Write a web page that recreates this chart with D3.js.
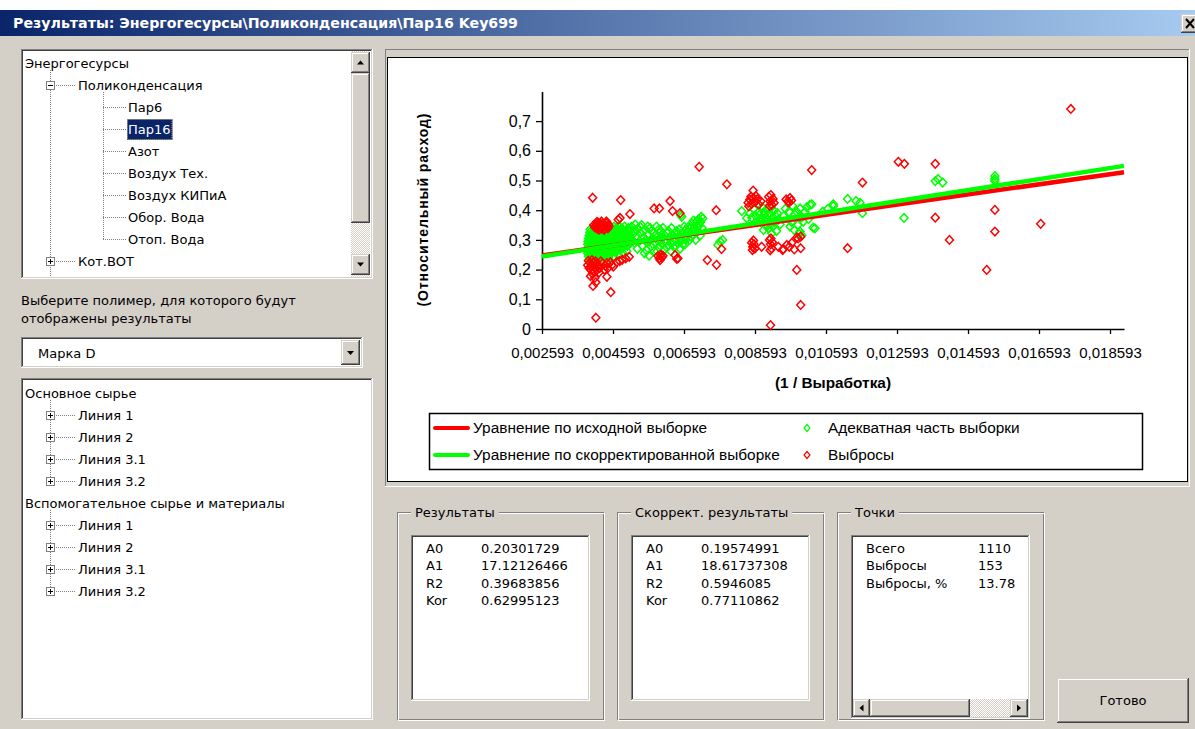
<!DOCTYPE html>
<html>
<head>
<meta charset="utf-8">
<script src="https://cdn.jsdelivr.net/npm/d3@7"></script>
<style>
html, body { margin: 0; padding: 0; background: #fff; overflow: hidden; }
svg { display: block; }
</style>
</head>
<body>
<div id="app"></div>
<script>
const windowTitle = 'Результаты: Энергогесурсы\\Поликонденсация\\Пар16 Key699';

// [label, level, toggle]
const resourceTree = [
    ['Энергогесурсы', 0, ''], ['Поликонденсация', 1, '-'], ['Пар6', 2, ''], ['Пар16', 2, ''],
    ['Азот', 2, ''], ['Воздух Тех.', 2, ''], ['Воздух КИПиА', 2, ''], ['Обор. Вода', 2, ''],
    ['Отоп. Вода', 2, ''], ['Кот.ВОТ', 1, '+']
];
const selectedResource = 'Пар16';
const polymerPrompt = ['Выберите полимер, для которого будут', 'отображены результаты'];
const polymerChoice = 'Марка D';
const materialTree = [
    ['Основное сырье', 0, ''], ['Линия 1', 1, '+'], ['Линия 2', 1, '+'], ['Линия 3.1', 1, '+'], ['Линия 3.2', 1, '+'],
    ['Вспомогательное сырье и материалы', 0, ''], ['Линия 1', 1, '+'], ['Линия 2', 1, '+'], ['Линия 3.1', 1, '+'], ['Линия 3.2', 1, '+']
];

const coefNames = ['A0', 'A1', 'R2', 'Kor'];
const rawResults = ['0.20301729', '17.12126466', '0.39683856', '0.62995123'];
const corrResults = ['0.19574991', '18.61737308', '0.5946085', '0.77110862'];
const pointNames = ['Всего', 'Выбросы', 'Выбросы, %'];
const pointValues = ['1110', '153', '13.78'];

const xTicks = [0.002593, 0.004593, 0.006593, 0.008593, 0.010593, 0.012593, 0.014593, 0.016593, 0.018593];
const yTicks = [0, 0.1, 0.2, 0.3, 0.4, 0.5, 0.6, 0.7];
const xTitle = '(1 / Выработка)';
const yTitle = '(Относительный расход)';
const legendLabels = ['Уравнение по исходной выборке', 'Уравнение по скорректированной выборке', 'Адекватная часть выборки', 'Выбросы'];

// points: [ (1/Выработка) x 1000 , относительный расход ]
const adequatePts = [
    [3.90,.245],[3.98,.245],[4.06,.245],[4.14,.245],[4.22,.245],[4.32,.245],[4.40,.245],
    [3.94,.250],[4.02,.250],[4.10,.250],[4.18,.250],[4.26,.250],[4.34,.250],[4.42,.250],[4.50,.250],
    [3.88,.255],[3.96,.255],[4.04,.255],[4.12,.255],[4.20,.255],[4.28,.255],[4.36,.255],[4.44,.255],[4.52,.255],
    [3.93,.260],[4.01,.260],[4.09,.260],[4.17,.260],[4.25,.260],[4.33,.260],[4.41,.260],[4.49,.260],[4.58,.260],[4.67,.260],
    [3.89,.265],[3.97,.265],[4.05,.265],[4.13,.265],[4.21,.265],[4.29,.265],[4.37,.265],[4.45,.265],[4.53,.265],[4.62,.265],[4.72,.265],
    [3.94,.270],[4.02,.270],[4.10,.270],[4.18,.270],[4.26,.270],[4.34,.270],[4.42,.270],[4.50,.270],[4.59,.270],[4.70,.270],[4.82,.270],
    [3.90,.275],[3.98,.275],[4.06,.275],[4.14,.275],[4.22,.275],[4.30,.275],[4.38,.275],[4.46,.275],[4.54,.275],[4.64,.275],[4.76,.275],[4.88,.275],
    [3.92,.280],[4.00,.280],[4.08,.280],[4.16,.280],[4.24,.280],[4.32,.280],[4.40,.280],[4.48,.280],[4.57,.280],[4.66,.280],[4.76,.280],[4.88,.280],[5.00,.280],
    [3.88,.285],[3.96,.285],[4.04,.285],[4.12,.285],[4.20,.285],[4.28,.285],[4.36,.285],[4.44,.285],[4.52,.285],[4.60,.285],[4.70,.285],[4.82,.285],[4.94,.285],[5.05,.285],
    [3.93,.290],[4.01,.290],[4.09,.290],[4.17,.290],[4.25,.290],[4.33,.290],[4.41,.290],[4.49,.290],[4.60,.290],[4.72,.290],[4.84,.290],[4.96,.290],[5.08,.290],
    [3.89,.295],[3.97,.295],[4.05,.295],[4.13,.295],[4.21,.295],[4.29,.295],[4.37,.295],[4.45,.295],[4.55,.295],[4.66,.295],[4.78,.295],[4.90,.295],[5.02,.295],
    [3.94,.300],[4.02,.300],[4.10,.300],[4.18,.300],[4.26,.300],[4.34,.300],[4.42,.300],[4.51,.300],[4.62,.300],[4.74,.300],[4.86,.300],[5.04,.300],
    [3.90,.305],[3.98,.305],[4.06,.305],[4.14,.305],[4.22,.305],[4.30,.305],[4.38,.305],[4.46,.305],[4.56,.305],[4.68,.305],[4.80,.305],[4.96,.305],[5.10,.305],
    [3.95,.310],[4.04,.310],[4.12,.310],[4.20,.310],[4.28,.310],[4.36,.310],[4.44,.310],[4.53,.310],[4.64,.310],[4.76,.310],[4.92,.310],[5.06,.310],
    [3.92,.315],[4.00,.315],[4.08,.315],[4.16,.315],[4.24,.315],[4.32,.315],[4.40,.315],[4.48,.315],[4.58,.315],[4.70,.315],[4.84,.315],[5.00,.315],
    [3.98,.320],[4.08,.320],[4.18,.320],[4.28,.320],[4.38,.320],[4.48,.320],[4.59,.320],[4.70,.320],[4.82,.320],[4.96,.320],
    [3.94,.325],[4.04,.325],[4.14,.325],[4.24,.325],[4.34,.325],[4.44,.325],[4.54,.325],[4.64,.325],[4.76,.325],[4.90,.325],
    [4.66,.330],[4.80,.330],[4.94,.330],[5.08,.330],
    [3.95,.335],[4.60,.335],[4.72,.335],[4.86,.335],[5.00,.335],
    [4.68,.340],[4.84,.340],[5.02,.340],
    [4.62,.345],[4.76,.345],[4.92,.345],
    [3.92,.235],[4.02,.235],[4.12,.235],[4.22,.235],[4.46,.240],[4.58,.240],
    [4.62,.245],[4.75,.250],[4.88,.255],[4.98,.262],
    [5.12,.345],[5.18,.330],[5.22,.352],[5.25,.312],[5.30,.338],[5.33,.295],[5.36,.322],[5.40,.350],[5.42,.280],[5.46,.308],
    [5.50,.335],[5.53,.265],[5.55,.292],[5.58,.318],[5.61,.247],[5.64,.340],[5.66,.280],[5.70,.305],[5.73,.325],[5.76,.262],
    [5.79,.290],[5.82,.345],[5.85,.312],[5.88,.275],[5.91,.298],[5.95,.330],[5.98,.285],[6.02,.310],[6.05,.268],[6.08,.295],
    [6.12,.322],[6.15,.280],[6.18,.305],[6.22,.262],[6.25,.290],[6.28,.315],[6.32,.275],[6.35,.300],[6.38,.330],[6.42,.288],
    [6.45,.312],[6.48,.270],[6.52,.298],[6.55,.325],[6.58,.305],[6.62,.285],[6.65,.335],[6.68,.312],[6.72,.345],[6.75,.300],
    [6.78,.325],[6.82,.355],[6.85,.318],[6.88,.340],[6.92,.300],[6.95,.362],[6.98,.330],[7.02,.348],[7.08,.378],[7.05,.315],
    [7.12,.372],[6.53,.378],[6.50,.383],[7.61,.294],[7.68,.300],[7.55,.283],
    [5.15,.318],[5.20,.290],[5.28,.270],[5.35,.345],[5.44,.328],[5.48,.255],[5.52,.300],[5.57,.345],[5.62,.295],[5.68,.330],
    [5.72,.285],[5.78,.315],[5.84,.262],[5.88,.335],[5.93,.310],[6.00,.340],[6.04,.295],[6.10,.275],[6.16,.330],[6.20,.310],
    [6.24,.340],[6.30,.295],[6.36,.280],[6.40,.320],[6.46,.335],[6.50,.300],[6.56,.285],[6.60,.345],[6.64,.300],[6.70,.325],
    [6.76,.340],[6.80,.310],[6.86,.365],[6.90,.330],[6.96,.345],[7.00,.370],[7.06,.360],[7.10,.340],
    [8.22,.397],[8.36,.373],[8.45,.390],[8.55,.405],[8.62,.380],[8.70,.395],[8.75,.360],[8.80,.410],[8.83,.333],[8.86,.385],
    [8.90,.350],[8.92,.400],[8.95,.370],[8.98,.338],[9.00,.390],[9.02,.355],[9.06,.322],[9.08,.372],[9.10,.345],[9.12,.398],
    [9.15,.360],[9.18,.380],[8.88,.365],[8.78,.372],[9.05,.410],[9.20,.330],[9.25,.368],[9.30,.352],[9.40,.380],[9.58,.345],
    [9.62,.360],[9.70,.333],[9.72,.385],[9.77,.395],[9.80,.350],[9.84,.320],[9.86,.406],[9.86,.328],[9.91,.316],[9.95,.361],
    [10.00,.395],[10.05,.410],[10.14,.418],[10.19,.420],[10.23,.341],[10.28,.339],[9.45,.405],[9.55,.395],[9.65,.415],[9.90,.375],
    [10.10,.370],[8.65,.360],[8.50,.375],[8.72,.385],[8.85,.395],[8.96,.382],[9.10,.360],[9.22,.390],[8.92,.345],[9.00,.360],
    [10.80,.414],[10.80,.420],[11.20,.438],[11.44,.431],[11.62,.390],[11.55,.425],[12.79,.374],[13.67,.498],[13.88,.493],[13.75,.505],
    [15.35,.515],[15.35,.505],[15.35,.498],[10.50,.395],[10.65,.405]
];
const outlierPts = [
    [4.08,.342],[4.12,.353],[4.15,.337],[4.19,.357],[4.22,.345],[4.26,.338],[4.29,.355],[4.33,.347],[4.36,.337],[4.40,.357],
    [4.43,.345],[4.46,.353],[4.10,.347],[4.17,.345],[4.24,.352],[4.31,.341],[4.38,.348],[4.45,.339],[4.14,.361],[4.27,.362],
    [4.41,.362],[4.20,.335],[4.34,.334],[4.48,.345],[4.05,.350],
    [3.88,.215],[3.92,.205],[3.95,.222],[3.98,.198],[4.01,.212],[4.04,.225],[4.06,.195],[4.09,.208],[4.12,.218],[4.15,.200],
    [3.90,.230],[4.00,.232],[4.10,.228],[4.18,.215],[4.22,.205],[4.30,.221],[4.38,.212],[4.45,.205],[4.52,.225],[4.60,.210],
    [4.70,.226],[4.78,.229],[4.85,.233],[4.95,.238],[5.05,.243],[4.25,.228],[4.35,.200],[4.42,.222],[4.02,.185],[3.96,.178],
    [4.08,.172],[4.11,.157],[4.03,.145],[4.42,.176],[4.53,.124],[4.11,.038],[4.20,.190],[4.56,.215],[3.97,.209],
    [4.02,.442],[4.81,.434],[5.07,.387],[5.75,.406],[5.90,.406],[6.20,.431],[6.27,.397],[6.48,.390],[7.02,.546],[7.80,.487],
    [7.50,.400],[7.25,.232],[7.51,.216],[7.65,.269],[6.39,.236],[4.79,.374],[4.74,.368],[6.34,.249],[6.42,.238],
    [5.86,.246],[5.90,.238],[5.94,.250],[5.97,.241],[5.92,.232],[6.00,.247],
    [8.40,.425],[8.45,.436],[8.50,.421],[8.55,.441],[8.60,.428],[8.66,.437],[8.70,.419],[8.76,.430],[8.48,.446],[8.62,.448],
    [8.54,.466],[8.42,.413],
    [8.98,.445],[9.02,.430],[9.06,.418],[9.10,.438],[9.04,.451],[9.13,.425],[9.00,.415],
    [9.47,.436],[9.52,.430],[9.58,.441],[9.55,.426],[9.62,.433],
    [8.50,.290],[8.53,.276],[8.56,.286],[8.59,.271],[8.55,.298],[8.52,.266],
    [9.00,.300],[9.03,.285],[9.06,.271],[9.02,.265],[9.08,.292],[9.04,.305],
    [8.78,.277],[9.25,.277],[9.37,.266],[9.39,.269],[9.56,.277],[9.63,.290],[9.77,.308],[9.88,.311],[9.88,.272],[9.81,.305],
    [9.77,.199],[9.88,.081],[9.03,.013],[9.49,.283],[9.70,.268],
    [10.19,.535],[11.62,.493],[12.63,.563],[12.80,.556],[13.67,.556],[13.67,.375],[14.07,.300],[11.20,.272],[15.35,.401],[15.35,.328],
    [15.12,.199],[16.64,.354],[17.49,.741]
];

// ---- drawing ----
const W = 1195, H = 729;
const FACE = '#d4d0c8', NAVY = '#0a246a';
const UI_FONT = '"DejaVu Sans", Verdana, sans-serif';
const CH_FONT = '"Liberation Sans", Arial, sans-serif';

const svg = d3.select('#app').append('svg').attr('width', W).attr('height', H);
const defs = svg.append('defs');

const grad = defs.append('linearGradient').attr('id', 'caption');
grad.append('stop').attr('offset', '0%').attr('stop-color', NAVY);
grad.append('stop').attr('offset', '100%').attr('stop-color', '#a6caf0');

const hatch = defs.append('pattern').attr('id', 'hatch')
    .attr('width', 2).attr('height', 2).attr('patternUnits', 'userSpaceOnUse');
hatch.append('rect').attr('width', 2).attr('height', 2).attr('fill', FACE);
hatch.append('rect').attr('width', 1).attr('height', 1).attr('fill', '#fff');
hatch.append('rect').attr('x', 1).attr('y', 1).attr('width', 1).attr('height', 1).attr('fill', '#fff');

function edge(g, x, y, w, h, tl, br) {
    g.append('rect').attr('x', x).attr('y', y).attr('width', w).attr('height', 1).attr('fill', tl);
    g.append('rect').attr('x', x).attr('y', y).attr('width', 1).attr('height', h).attr('fill', tl);
    g.append('rect').attr('x', x).attr('y', y + h - 1).attr('width', w).attr('height', 1).attr('fill', br);
    g.append('rect').attr('x', x + w - 1).attr('y', y).attr('width', 1).attr('height', h).attr('fill', br);
}
function sunken(g, x, y, w, h, fill) {
    g.append('rect').attr('x', x).attr('y', y).attr('width', w).attr('height', h).attr('fill', fill || '#fff');
    edge(g, x, y, w, h, '#808080', '#fff');
    edge(g, x + 1, y + 1, w - 2, h - 2, '#404040', FACE);
}
function raised(g, x, y, w, h) {
    g.append('rect').attr('x', x).attr('y', y).attr('width', w).attr('height', h).attr('fill', FACE);
    edge(g, x, y, w, h, FACE, '#404040');
    edge(g, x + 1, y + 1, w - 2, h - 2, '#fff', '#808080');
}
function arrow(g, cx, cy, dir) {
    const s = 3.5;
    const pts = {
        up: [[cx - s, cy + 2], [cx + s, cy + 2], [cx, cy - 2]],
        down: [[cx - s, cy - 2], [cx + s, cy - 2], [cx, cy + 2]],
        left: [[cx + 2, cy - s], [cx + 2, cy + s], [cx - 2, cy]],
        right: [[cx - 2, cy - s], [cx - 2, cy + s], [cx + 2, cy]]
    }[dir];
    g.append('path').attr('d', 'M' + pts.join('L') + 'Z').attr('fill', '#000');
}
function uiText(g, x, y, txt, opts = {}) {
    return g.append('text').attr('x', x).attr('y', y).text(txt)
        .attr('font-family', UI_FONT).attr('font-size', opts.size || 13)
        .attr('font-weight', opts.weight || 'normal')
        .attr('fill', opts.fill || '#000')
        .attr('text-anchor', opts.anchor || 'start');
}

// window body + caption
svg.append('rect').attr('y', 10).attr('width', W).attr('height', H - 10).attr('fill', FACE);
svg.append('rect').attr('y', 10).attr('width', W).attr('height', 26).attr('fill', 'url(#caption)');
uiText(svg, 13, 28, windowTitle, {weight: 'bold', fill: '#fff', size: 14})
    .attr('textLength', 505).attr('lengthAdjust', 'spacingAndGlyphs');
raised(svg, 1181, 14, 20, 19);
svg.append('path').attr('d', 'M1186,19L1194,28M1194,19L1186,28').attr('stroke', '#000').attr('stroke-width', 2);

// tree view helper
function drawTree(g, items, top, textX, lineX, clipBottom) {
    const rowY = i => top + 22 * i;
    const dots = g.append('g').attr('stroke', '#808080').attr('stroke-dasharray', '1,1').attr('fill', 'none');
    items.forEach((it, i) => {
        const lvl = it[1];
        if (lvl === 0) return;
        let p = i - 1;
        while (p >= 0 && items[p][1] !== lvl - 1) p--;
        const vx = lineX[lvl];
        dots.append('line').attr('x1', vx + 0.5).attr('x2', vx + 0.5)
            .attr('y1', rowY(p) + 7).attr('y2', rowY(i) + 0.5);
        dots.append('line').attr('x1', vx).attr('x2', textX[lvl] - 2)
            .attr('y1', rowY(i) + 0.5).attr('y2', rowY(i) + 0.5);
    });
    if (clipBottom) {
        const lastTop = items.map(d => d[1]).lastIndexOf(1);
        dots.append('line').attr('x1', lineX[1] + 0.5).attr('x2', lineX[1] + 0.5)
            .attr('y1', rowY(lastTop)).attr('y2', clipBottom);
    }
    items.forEach((it, i) => {
        const [label, lvl, toggle] = it;
        const y = rowY(i);
        if (toggle) {
            const bx = lineX[lvl] - 4;
            g.append('rect').attr('x', bx + 0.5).attr('y', y - 4 + 0.5).attr('width', 8).attr('height', 8)
                .attr('fill', '#fff').attr('stroke', '#808080');
            g.append('line').attr('x1', bx + 2).attr('x2', bx + 7).attr('y1', y + 0.5).attr('y2', y + 0.5).attr('stroke', '#000');
            if (toggle === '+') {
                g.append('line').attr('x1', bx + 4.5).attr('x2', bx + 4.5).attr('y1', y - 2).attr('y2', y + 3).attr('stroke', '#000');
            }
        }
        const sel = label === selectedResource && g.attr('id') === 'tree1';
        const t = uiText(g, textX[lvl], y + 5, label, {fill: sel ? '#fff' : '#000'});
        if (sel) {
            const w = t.node().getComputedTextLength();
            g.insert('rect', 'text').attr('x', textX[lvl] - 1).attr('y', y - 10).attr('width', w + 3).attr('height', 21)
                .attr('fill', NAVY);
            g.append('rect').attr('x', textX[lvl] - 0.5).attr('y', y - 9.5).attr('width', w + 2).attr('height', 20)
                .attr('fill', 'none').attr('stroke', '#d8c880').attr('stroke-dasharray', '1,1');
        }
    });
}

// resource tree
sunken(svg, 21, 49, 352, 230);
defs.append('clipPath').attr('id', 'clipTree1').append('rect').attr('x', 23).attr('y', 51).attr('width', 328).attr('height', 226);
const tree1 = svg.append('g').attr('id', 'tree1').attr('clip-path', 'url(#clipTree1)');
drawTree(tree1, resourceTree, 63, [25, 78, 128], [0, 50, 103], 277);
// vertical scroll bar
svg.append('rect').attr('x', 351).attr('y', 51).attr('width', 19).attr('height', 226).attr('fill', 'url(#hatch)');
raised(svg, 351, 52, 19, 21); arrow(svg, 360.5, 62.5, 'up');
raised(svg, 351, 73, 19, 150);
raised(svg, 351, 254, 19, 21); arrow(svg, 360.5, 264.5, 'down');

// prompt + combo
polymerPrompt.forEach((s, i) => uiText(svg, 21, 305 + 18 * i, s));
sunken(svg, 21, 337, 342, 31);
uiText(svg, 38, 358, polymerChoice);
raised(svg, 341, 340, 19, 25); arrow(svg, 350.5, 353, 'down');

// material tree
sunken(svg, 21, 378, 352, 342);
const tree2 = svg.append('g').attr('id', 'tree2');
drawTree(tree2, materialTree, 393, [25, 78], [0, 50], null);

// ---- chart panel ----
svg.append('rect').attr('x', 385).attr('y', 49).attr('width', 805).attr('height', 438).attr('fill', FACE);
edge(svg, 385, 49, 805, 438, '#808080', '#fff');
svg.append('rect').attr('x', 387.5).attr('y', 57.5).attr('width', 800).attr('height', 424)
    .attr('fill', '#fff').attr('stroke', '#000');

const x = d3.scaleLinear().domain([0.002593, 0.018987]).range([542, 1124]);
const y = d3.scaleLinear().domain([0, 0.8]).range([329, 91.4]);
const ruLocale = d3.formatLocale({decimal: ',', thousands: ' ', grouping: [3], currency: ['', '']});

const chart = svg.append('g');
const xAxis = chart.append('g').attr('transform', `translate(0,${y(0)})`)
    .call(d3.axisBottom(x).tickValues(xTicks).tickFormat(ruLocale.format('.6~f'))
        .tickSize(5).tickSizeOuter(0).tickPadding(13));
const yAxis = chart.append('g').attr('transform', `translate(${x.range()[0]},0)`)
    .call(d3.axisLeft(y).tickValues(yTicks).tickFormat(ruLocale.format('.1~f'))
        .tickSize(6).tickSizeOuter(0).tickPadding(5));
[xAxis, yAxis].forEach(a => {
    a.attr('font-family', CH_FONT).attr('font-size', 15);
    a.select('.domain').attr('stroke', '#000').attr('stroke-width', 1.6);
    a.selectAll('.tick line').attr('stroke', '#000').attr('stroke-width', 1.3);
    a.selectAll('.tick text').attr('fill', '#000');
});
yAxis.selectAll('.tick text').attr('font-size', 16);

chart.append('text').attr('x', (x.range()[0] + x.range()[1]) / 2).attr('y', 388)
    .attr('text-anchor', 'middle').attr('font-family', CH_FONT).attr('font-weight', 'bold').attr('font-size', 14)
    .attr('textLength', 116).attr('lengthAdjust', 'spacingAndGlyphs')
    .text(xTitle);
chart.append('text').attr('transform', 'translate(428,210) rotate(-90)')
    .attr('text-anchor', 'middle').attr('font-family', CH_FONT).attr('font-weight', 'bold').attr('font-size', 14)
    .attr('textLength', 193).attr('lengthAdjust', 'spacing')
    .text(yTitle);

const diamond = (hw, hh) => `M0,${-hh}L${hw},0L0,${hh}L${-hw},0Z`;
const RED = '#ff0000', GREEN = '#00ff00';

chart.append('g').selectAll('path').data(adequatePts).join('path')
    .attr('d', diamond(4, 4.3))
    .attr('transform', d => `translate(${x(d[0] / 1000)},${y(d[1])})`)
    .attr('fill', 'none').attr('stroke', GREEN).attr('stroke-width', 1.5);
chart.append('g').selectAll('path').data(outlierPts).join('path')
    .attr('d', diamond(4, 4.3))
    .attr('transform', d => `translate(${x(d[0] / 1000)},${y(d[1])})`)
    .attr('fill', 'none').attr('stroke', RED).attr('stroke-width', 1.5);

const fitLine = d3.line().x(d => x(d[0])).y(d => y(d[1]));
const fits = [
    {coef: rawResults, color: RED},
    {coef: corrResults, color: GREEN}
];
fits.forEach(f => {
    const a0 = +f.coef[0], a1 = +f.coef[1];
    const pts = x.domain().map(v => [v, a0 + a1 * v]);
    chart.append('path').attr('d', fitLine(pts)).attr('fill', 'none')
        .attr('stroke', f.color).attr('stroke-width', 4.5);
});

// legend
const legend = chart.append('g');
legend.append('rect').attr('x', 429.5).attr('y', 413.5).attr('width', 713).attr('height', 56)
    .attr('fill', '#fff').attr('stroke', '#000').attr('stroke-width', 1.5);
const legRows = [428, 455];
[RED, GREEN].forEach((c, i) => {
    legend.append('line').attr('x1', 435).attr('x2', 468).attr('y1', legRows[i]).attr('y2', legRows[i])
        .attr('stroke', c).attr('stroke-width', 4).attr('stroke-linecap', 'round');
    legend.append('text').attr('x', 473).attr('y', legRows[i] + 5).text(legendLabels[i])
        .attr('font-family', CH_FONT).attr('font-size', 15.4);
});
[GREEN, RED].forEach((c, i) => {
    legend.append('path').attr('d', diamond(3, 3.5)).attr('transform', `translate(807,${legRows[i]})`)
        .attr('fill', 'none').attr('stroke', c).attr('stroke-width', 1.2);
    legend.append('text').attr('x', 828).attr('y', legRows[i] + 5).text(legendLabels[i + 2])
        .attr('font-family', CH_FONT).attr('font-size', 15.4);
});

// ---- result group boxes ----
function groupBox(gx, title, names, values, valueX, withScroll) {
    const g = svg.append('g');
    const gy = 512, gw = 207, gh = 208;
    g.append('rect').attr('x', gx + 0.5).attr('y', gy + 0.5).attr('width', gw - 1).attr('height', gh - 1)
        .attr('fill', 'none').attr('stroke', '#808080');
    g.append('rect').attr('x', gx + 1.5).attr('y', gy + 1.5).attr('width', gw - 1).attr('height', gh - 1)
        .attr('fill', 'none').attr('stroke', '#fff');
    const t = uiText(g, gx + 18, gy + 5, title);
    const tw = t.node().getComputedTextLength();
    g.insert('rect', 'text').attr('x', gx + 14).attr('y', gy - 2).attr('width', tw + 8).attr('height', 6).attr('fill', FACE);
    const lx = gx + 14, lw = 179, lh = withScroll ? 184 : 166;
    sunken(g, lx, 535, lw, lh);
    names.forEach((n, i) => {
        uiText(g, lx + 15, 553 + 17.4 * i, n);
        uiText(g, valueX, 553 + 17.4 * i, values[i]);
    });
    if (withScroll) {
        const sy = 535 + lh - 20;
        g.append('rect').attr('x', lx + 2).attr('y', sy).attr('width', lw - 4).attr('height', 18).attr('fill', 'url(#hatch)');
        raised(g, lx + 2, sy, 17, 18); arrow(g, lx + 10.5, sy + 9, 'left');
        raised(g, lx + 19, sy, 100, 18);
        raised(g, lx + lw - 20, sy, 18, 18); arrow(g, lx + lw - 11, sy + 9, 'right');
    }
}
groupBox(397, 'Результаты', coefNames, rawResults, 481, false);
groupBox(617, 'Скоррект. результаты', coefNames, corrResults, 701, false);
groupBox(837, 'Точки', pointNames, pointValues, 978, true);

raised(svg, 1057, 678, 132, 45);
uiText(svg, 1123, 705, 'Готово', {anchor: 'middle'});
</script>
</body>
</html>
